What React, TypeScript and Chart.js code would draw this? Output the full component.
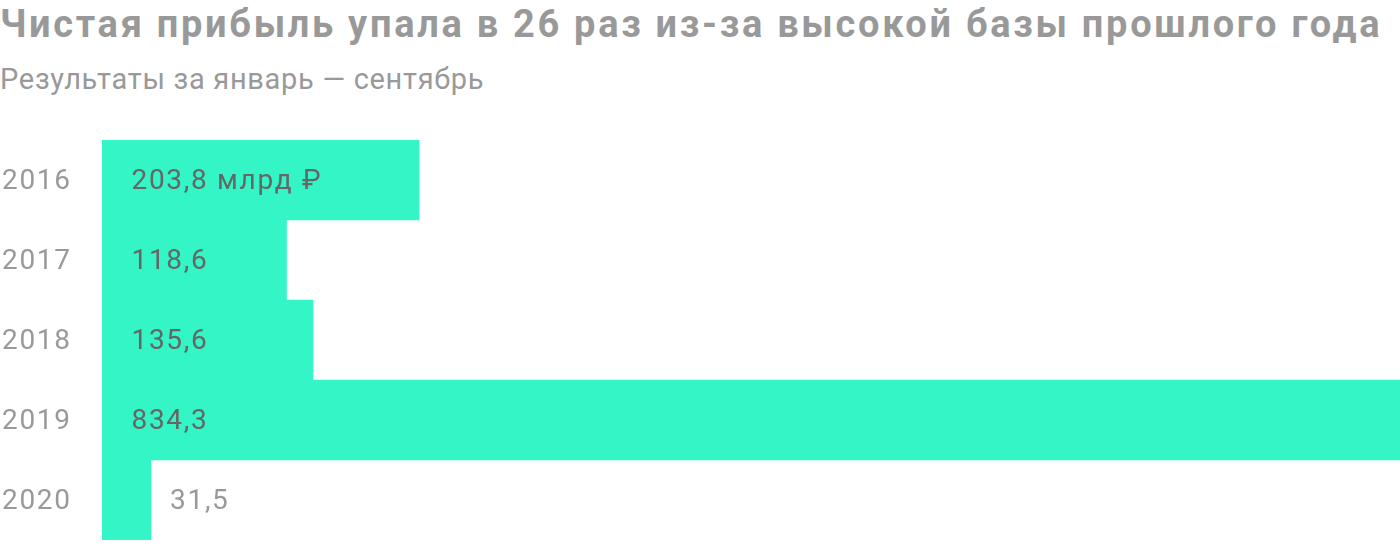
import React, { useEffect, useRef } from "react";
import { Chart, registerables } from "chart.js";

Chart.register(...registerables);

const title = "Чистая прибыль упала в 26 раз из-за высокой базы прошлого года";
const subtitle = "Результаты за январь — сентябрь";
const years = ["2016", "2017", "2018", "2019", "2020"];
const profit = [203.8, 118.6, 135.6, 834.3, 31.5];
const valueLabels = ["203,8 млрд ₽", "118,6", "135,6", "834,3", "31,5"];

const FONT = "Roboto, 'Noto Sans', sans-serif";

export default function App() {
  const ref = useRef<HTMLCanvasElement | null>(null);

  useEffect(() => {
    document.body.style.margin = "0";
    if (!ref.current) return;
    const labelPlugin = {
      id: "valueLabels",
      afterDatasetsDraw(chart: any) {
        const { ctx } = chart;
        const meta = chart.getDatasetMeta(0);
        const yScale = chart.scales.y;
        ctx.save();
        ctx.font = `28px ${FONT}`;
        (ctx as any).letterSpacing = "1.7px";
        ctx.textBaseline = "alphabetic";
        ctx.textAlign = "left";
        years.forEach((yr, i) => {
          ctx.fillStyle = "#999999";
          ctx.fillText(yr, 2, yScale.getPixelForTick(i) + 8.5);
        });
        meta.data.forEach((bar: any, i: number) => {
          const text = valueLabels[i];
          const w = ctx.measureText(text).width;
          const start = bar.base + 29.5;
          if (start + w + 10 < bar.x) {
            ctx.fillStyle = "#666666";
            ctx.fillText(text, start, bar.y + 9);
          } else {
            ctx.fillStyle = "#999999";
            ctx.fillText(text, bar.x + 19, bar.y + 9);
          }
        });
        ctx.restore();
      },
    };
    const chart = new Chart(ref.current, {
      type: "bar",
      data: {
        labels: years,
        datasets: [
          {
            data: profit,
            backgroundColor: "#33F5C5",
            borderWidth: 0,
            barPercentage: 1,
            categoryPercentage: 1,
          },
        ],
      },
      options: {
        indexAxis: "y",
        animation: false,
        responsive: false,
        maintainAspectRatio: false,
        layout: { padding: 0 },
        plugins: {
          legend: { display: false },
          tooltip: { enabled: false },
        },
        scales: {
          x: {
            display: false,
            min: 0,
            max: 834.3,
          },
          y: {
            grid: { display: false, drawTicks: false },
            border: { display: false },
            ticks: { display: false },
            afterFit(scale: any) {
              scale.width = 102;
            },
          },
        },
      },
      plugins: [labelPlugin],
    });
    return () => chart.destroy();
  }, []);

  return (
    <div style={{ position: "relative", width: 1400, height: 546, background: "#fff", overflow: "hidden" }}>
      <div
        style={{
          position: "absolute",
          left: 0,
          top: -1,
          fontFamily: FONT,
          fontWeight: 700,
          fontSize: 38,
          letterSpacing: "2.7px",
          color: "#999999",
          whiteSpace: "nowrap",
          lineHeight: "50px",
        }}
      >
        {title}
      </div>
      <div
        style={{
          position: "absolute",
          left: 0,
          top: 59,
          fontFamily: FONT,
          fontSize: 29,
          letterSpacing: "0.7px",
          color: "#999999",
          whiteSpace: "nowrap",
          lineHeight: "40px",
        }}
      >
        {subtitle}
      </div>
      <canvas ref={ref} width={1400} height={400} style={{ position: "absolute", left: 0, top: 140, width: 1400, height: 400 }} />
    </div>
  );
}
